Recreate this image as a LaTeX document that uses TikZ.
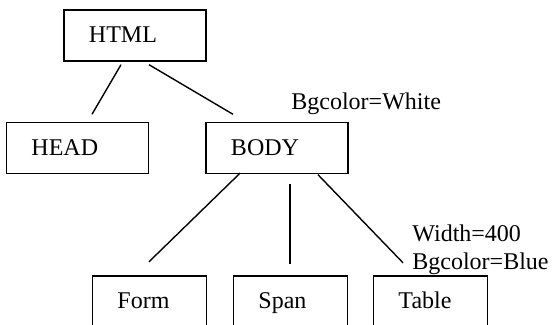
\documentclass[tikz,border=0pt]{standalone}
\usepackage{fontspec}
\setmainfont{Liberation Serif}
\usetikzlibrary{calc}

\begin{document}
\begin{tikzpicture}[x=0.5pt,y=-0.5pt,font=\fontsize{12}{14}\selectfont,
  tag/.style={draw,line width=0.7pt,minimum height=25.5pt,inner xsep=12.5pt,text width=46pt,
    text height=9.8pt,text depth=2.5pt,align=left},
  leaf/.style={text width=32pt},
  note/.style={inner sep=0pt,align=left},
  link/.style={line width=0.7pt}]
  \clip (0,0) rectangle (554,325);

  \node (html) at (135,35.5) [tag]  {HTML};
  \node (head) at (77.5,148) [tag]  {HEAD};
  \node (body) at (277,148) [tag]  {BODY};
  \node (form) at (149.5,301.5) [tag,leaf]  {Form};
  \node (span) at (290.5,301.5) [tag,leaf]  {Span};
  \node (table) at (430.5,301.5) [tag,leaf]  {Table};

  \node (white) at (291,110) [note,anchor=base west]  {Bgcolor=White};
  \node (blue) at (412,224) [note,anchor=north west]  {Width=400\\Bgcolor=Blue};

  \draw[link] ($(html.south)+(-14,3)$) -- ($(head.north)+(14.5,-7.5)$);
  \draw[link] ($(html.south)+(14,3)$) -- ($(body.north)+(-44,-7.5)$);
  \draw[link] ($(body.south)+(-37,-1)$) -- ($(form.north)+(-0.5,-13.5)$);
  \draw[link] ($(body.south)+(13,9.5)$) -- ($(span.north)+(-0.5,-11.5)$);
  \draw[link] ($(body.south)+(41,0.5)$) -- ($(table.north)+(-27.5,-12.5)$);

\end{tikzpicture}
\end{document}
